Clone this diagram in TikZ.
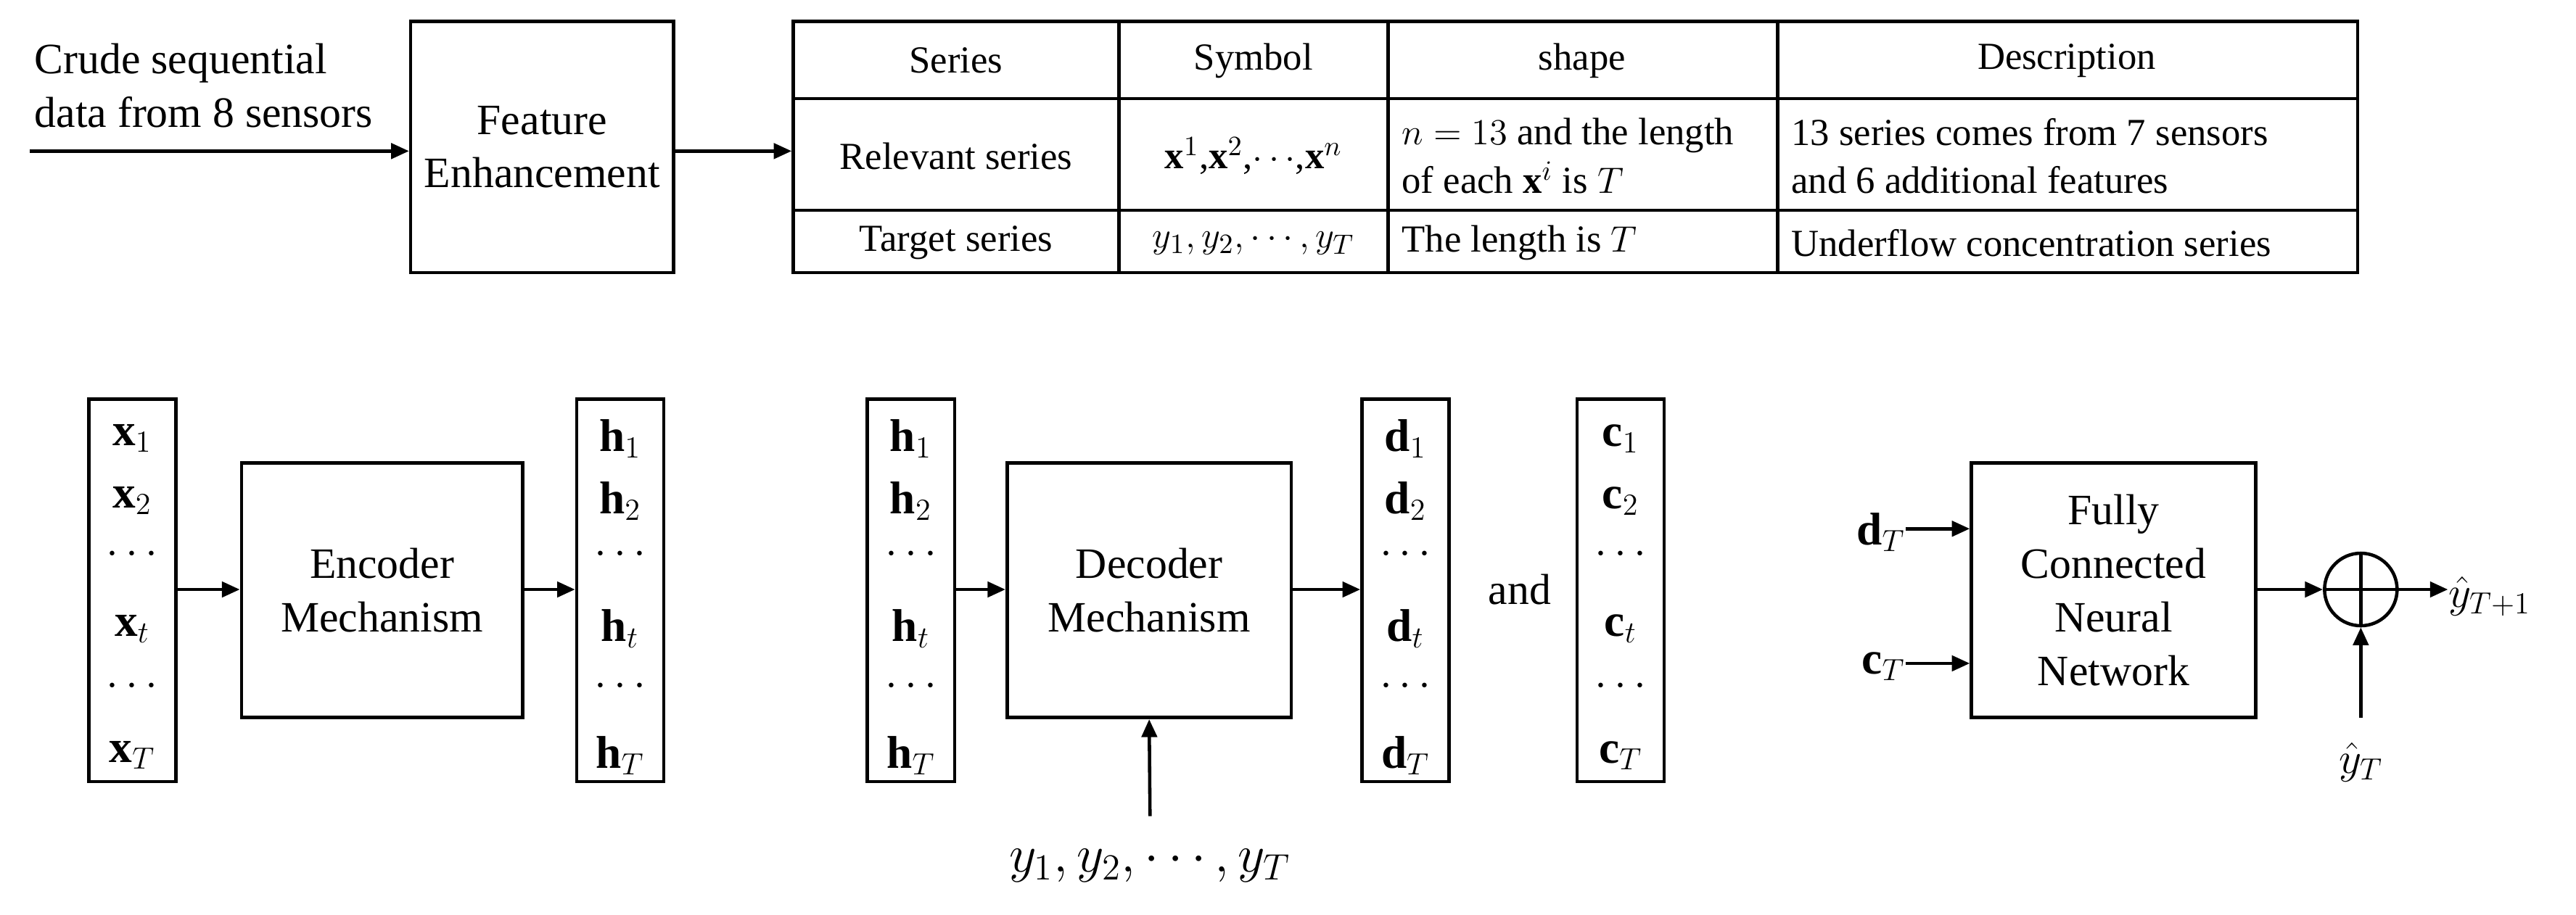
\documentclass[tikz,border=0pt]{standalone}
\usepackage{fontspec}
\setmainfont{LiberationSerif}[Extension=.ttf,UprightFont=*-Regular,BoldFont=*-Bold,ItalicFont=*-Italic,BoldItalicFont=*-BoldItalic]
\usetikzlibrary{arrows.meta}
\begin{document}
\begin{tikzpicture}[x=0.02265cm,y=-0.02265cm,
  lw/.style={line width=1.3pt},
  box/.style={draw,lw,align=center,font=\fontsize{17}{21}\selectfont,inner sep=0pt},
  col/.style={draw,lw,minimum width=1.2cm,minimum height=5.277cm,inner sep=0pt},
  ent/.style={font=\fontsize{18}{21}\selectfont,inner sep=0pt},
  arr/.style={lw,-{Triangle[length=7pt,width=6pt]}},
  tt/.style={font=\fontsize{15}{19}\selectfont,inner sep=0pt,align=left,anchor=west},
  tc/.style={font=\fontsize{15}{19}\selectfont,inner sep=0pt}]
\useasboundingbox (0,0) rectangle (1568,557);
% top
\coordinate (in) at (18,92);
\node[align=left,font=\fontsize{17}{21}\selectfont,inner sep=0pt] (crude) at (124,52) {Crude sequential\\data from 8 sensors};
\node[box,minimum width=3.624cm,minimum height=3.465cm] (fe) at (330,89.5) {Feature\\Enhancement};
\node[draw,lw,minimum width=21.563cm,minimum height=3.465cm,inner sep=0pt] (tab) at (959,89.5) {};
\draw[arr] (in) -- (fe.west |- in);
\draw[arr] (fe.east |- in) -- (tab.west |- in);
\draw[lw] (681,13) -- (681,166) (845,13) -- (845,166) (1082,13) -- (1082,166);
\draw[lw] (483,60) -- (1435,60) (483,128) -- (1435,128);
\node[tc] (h1) at (582,37) {Series};
\node[tc] (h2) at (763,37) {Symbol};
\node[tc] (h3) at (963,37) {shape};
\node[tc] (h4) at (1258,37) {Description};
\node[tc] (r1) at (582,95) {Relevant series};
\node[tc] (r2) at (763,95) {$\mathbf{x}^1$,$\mathbf{x}^2$,$\cdots$,$\mathbf{x}^n$};
\node[tt] (r3) at (853,95) {$n=13$ and the length\\of each $\mathbf{x}^i$ is $T$};
\node[tt] (r4) at (1090,95) {13 series comes from 7 sensors\\and 6 additional features};
\node[tc] (s1) at (582,148) {Target series};
\node[tc] (s2) at (763,148) {$y_1,y_2,\cdots,y_T$};
\node[tt] (s3) at (853,148) {The length is $T$};
\node[tt] (s4) at (1090,148) {Underflow concentration series};
% bottom columns
\node[col] (cx) at (80.5,359.5) {};
\node[col] (ch) at (377.5,359.5) {};
\node[col] (ch2) at (554.5,359.5) {};
\node[col] (cd) at (855.5,359.5) {};
\node[col] (cc) at (986.5,359.5) {};
\foreach \n/\c/\s in {cx/x/\mathbf{x}, ch/h/\mathbf{h}, ch2/g/\mathbf{h}, cd/d/\mathbf{d}, cc/c/\mathbf{c}}{
  \node[ent] (\c1) at (\n.center |- 0,267) {$\s_1$};
  \node[ent] (\c2) at (\n.center |- 0,305) {$\s_2$};
  \node[ent] (\c3) at (\n.center |- 0,338) {$\cdots$};
  \node[ent] (\c4) at (\n.center |- 0,383) {$\s_t$};
  \node[ent] (\c5) at (\n.center |- 0,418) {$\cdots$};
  \node[ent] (\c6) at (\n.center |- 0,460) {$\s_T$};
}
\node[box,minimum width=3.873cm,minimum height=3.511cm] (enc) at (232.5,359.5) {Encoder\\Mechanism};
\node[box,minimum width=3.918cm,minimum height=3.511cm] (dec) at (699.5,359.5) {Decoder\\Mechanism};
\node[box,minimum width=3.918cm,minimum height=3.511cm] (fc) at (1286.5,359.5) {Fully\\Connected\\Neural\\Network};
\draw[arr] (cx.east |- 0,359) -- (enc.west |- 0,359);
\draw[arr] (enc.east |- 0,359) -- (ch.west |- 0,359);
\draw[arr] (ch2.east |- 0,359) -- (dec.west |- 0,359);
\draw[arr] (dec.east |- 0,359) -- (cd.west |- 0,359);
\node[font=\fontsize{17}{21}\selectfont] (and) at (925,359) {and};
\node[ent,font=\fontsize{21}{24}\selectfont] (ys) at (700,527) {$y_1,y_2,\cdots,y_T$};
\coordinate (ysb) at (700,497);
\draw[arr] (ysb) -- (dec.south);
% FC part
\node[ent,anchor=east] (dT) at (1160,324) {$\mathbf{d}_T$};
\node[ent,anchor=east] (cT) at (1160,406) {$\mathbf{c}_T$};
\draw[arr] (dT.east |- 0,322) -- (fc.west |- 0,322);
\draw[arr] (cT.east |- 0,404) -- (fc.west |- 0,404);
\node[draw,lw,circle,minimum size=1.0cm,inner sep=0pt] (sum) at (1437,359) {};
\draw[lw] (sum.north) -- (sum.south) (sum.west) -- (sum.east);
\draw[arr] (fc.east |- sum) -- (sum.west);
\node[ent,anchor=west] (yo) at (1490,363) {$\hat{y}_{T+1}$};
\draw[arr] (sum.east) -- (yo.west |- sum);
\node[ent] (yT) at (1437,464) {$\hat{y}_T$};
\coordinate (yTt) at (1437,437);
\draw[arr] (yTt) -- (sum.south);
\end{tikzpicture}
\end{document}
